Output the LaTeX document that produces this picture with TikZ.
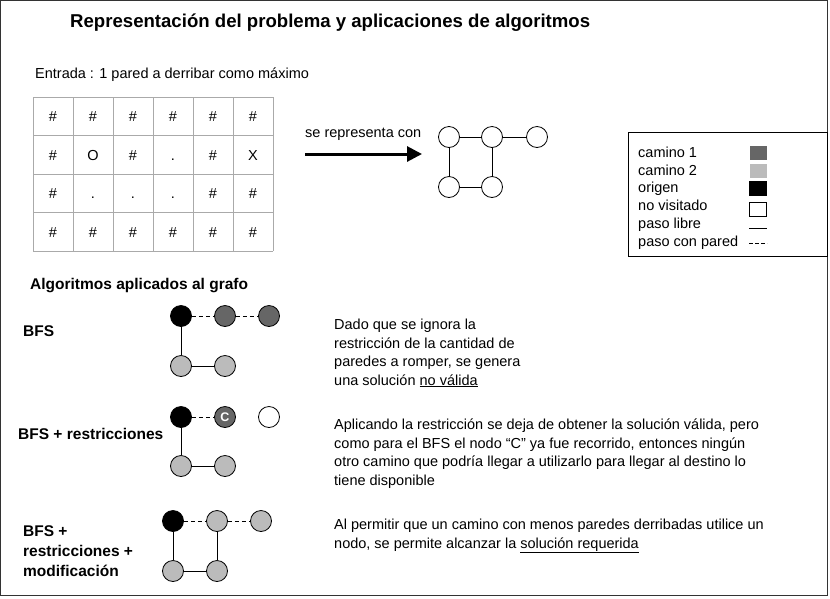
\documentclass[tikz,border=0pt]{standalone}
\usepackage{fontspec}
\setmainfont{Liberation Sans}
\usetikzlibrary{arrows.meta}
\definecolor{cone}{HTML}{666666}
\definecolor{ctwo}{HTML}{BBBBBB}
\definecolor{gridc}{HTML}{AAAAAA}
\definecolor{framec}{HTML}{333333}
\begin{document}
\begin{tikzpicture}[x=1pt,y=-1pt,
  txt/.style={anchor=base west, inner sep=0pt, font=\fontsize{14.5}{17}\selectfont},
  btxt/.style={anchor=base west, inner sep=0pt, font=\fontsize{15.5}{18}\selectfont\bfseries},
  cell/.style={anchor=base, inner sep=0pt, font=\fontsize{14.5}{17}\selectfont},
  vtx/.style={circle, draw=black, line width=0.8pt, minimum size=21pt, inner sep=0pt},
  orig/.style={vtx, fill=black},
  camone/.style={vtx, fill=cone},
  camtwo/.style={vtx, fill=ctwo},
  novis/.style={vtx, fill=white},
  edgefree/.style={draw=black, line width=0.8pt},
  edgewall/.style={draw=black, line width=0.8pt, dash pattern=on 4pt off 3pt},
  swatch/.style={draw=black, line width=0.6pt, minimum width=17pt, minimum height=14pt, inner sep=0pt}
]
\useasboundingbox (0,0) rectangle (830,598);
\draw[framec, line width=1pt] (0.5,0.5) rectangle (827.5,595.5);

% title
\node[anchor=base west, inner sep=0pt, font=\fontsize{18.6}{22}\selectfont\bfseries] (title) at (70,27) {Representación del problema y aplicaciones de algoritmos};
\node[txt] (entrada) at (35,78) {Entrada : 1 pared a derribar como máximo};

% grid
\foreach \i in {0,...,6} \draw[gridc, line width=0.8pt] (33+40*\i,97) -- (33+40*\i,251);
\foreach \j/\yy in {0/97,1/135.5,2/174,3/212.5,4/251} \draw[gridc, line width=0.8pt] (33,\yy) -- (273,\yy);
\foreach \c [count=\k from 0] in {\#,\#,\#,\#,\#,\#} \node[cell] (ga\k) at (53+40*\k,121) {\c};
\foreach \c [count=\k from 0] in {\#,O,\#,.,\#,X} \node[cell] (gb\k) at (53+40*\k,160) {\c};
\foreach \c [count=\k from 0] in {\#,.,.,.,\#,\#} \node[cell] (gc\k) at (53+40*\k,198) {\c};
\foreach \c [count=\k from 0] in {\#,\#,\#,\#,\#,\#} \node[cell] (gd\k) at (53+40*\k,237) {\c};

% arrow
\node[txt] (repr) at (305,137) {se representa con};
\coordinate (arrS) at (305,154);
\coordinate (arrE) at (422,154);
\draw[line width=3pt, -{Triangle[length=15pt, width=15pt]}] (arrS) -- (arrE);

% representing graph
\node[novis] (r1) at (449,137) {};
\node[novis] (r2) at (492,137) {};
\node[novis] (r3) at (537,137) {};
\node[novis] (r4) at (449,187) {};
\node[novis] (r5) at (492,187) {};
\draw[edgefree] (r1) -- (r2);
\draw[edgefree] (r2) -- (r3);
\draw[edgefree] (r1) -- (r4);
\draw[edgefree] (r2) -- (r5);
\draw[edgefree] (r4) -- (r5);

% legend
\node[draw=black, line width=0.8pt, minimum width=199pt, minimum height=124pt, anchor=north west, inner sep=0pt] (legend) at (628,132) {};
\node[txt] (l1) at (638,157) {camino 1};
\node[txt] (l2) at (638,175) {camino 2};
\node[txt] (l3) at (638,192) {origen};
\node[txt] (l4) at (638,210) {no visitado};
\node[txt] (l5) at (638,228) {paso libre};
\node[txt] (l6) at (638,246) {paso con pared};
\node[swatch, draw=none, fill=cone] (s1) at (758,153) {};
\node[swatch, draw=none, fill=ctwo] (s2) at (758,171) {};
\node[swatch, fill=black] (s3) at (758,188) {};
\node[swatch, fill=white] (s4) at (758,209) {};
\coordinate (s5a) at (749,228); \coordinate (s5b) at (767,228);
\coordinate (s6a) at (749,243); \coordinate (s6b) at (767,243);
\draw[line width=0.7pt] (s5a) -- (s5b);
\draw[line width=0.7pt, dash pattern=on 3.5pt off 2.5pt] (s6a) -- (s6b);

% algorithms
\node[btxt] (alg) at (30,289) {Algoritmos aplicados al grafo};

% BFS
\node[btxt] (bfs) at (23,336) {BFS};
\node[orig] (a1) at (181,316) {};
\node[camone] (a2) at (225,316) {};
\node[camone] (a3) at (269,316) {};
\node[camtwo] (a4) at (181,366) {};
\node[camtwo] (a5) at (225,366) {};
\draw[edgewall] (a1) -- (a2);
\draw[edgewall] (a2) -- (a3);
\draw[edgefree] (a1) -- (a4);
\draw[edgefree] (a4) -- (a5);
\node[txt] (t1a) at (334,329) {Dado que se ignora la};
\node[txt] (t1b) at (334,348) {restricción de la cantidad de};
\node[txt] (t1c) at (334,366) {paredes a romper, se genera};
\node[txt] (t1d) at (334,385) {una solución \underline{no válida}};

% BFS + restricciones
\node[btxt] (bfsr) at (18,439) {BFS + restricciones};
\node[orig] (b1) at (181,417) {};
\node[camone, font=\fontsize{12.5}{14}\selectfont\bfseries, text=white] (b2) at (225,417) {C};
\node[novis] (b3) at (269,417) {};
\node[camtwo] (b4) at (181,466) {};
\node[camtwo] (b5) at (225,466) {};
\draw[edgewall] (b1) -- (b2);
\draw[edgefree] (b1) -- (b4);
\draw[edgefree] (b4) -- (b5);
\node[txt] (t2a) at (334,429) {Aplicando la restricción se deja de obtener la solución válida, pero};
\node[txt] (t2b) at (334,448) {como para el BFS el nodo “C” ya fue recorrido, entonces ningún};
\node[txt] (t2c) at (334,466) {otro camino que podría llegar a utilizarlo para llegar al destino lo};
\node[txt] (t2d) at (334,485) {tiene disponible};

% BFS + restricciones + modificacion
\node[btxt] (bfsm1) at (23,536) {BFS +};
\node[btxt] (bfsm2) at (23,556) {restricciones +};
\node[btxt] (bfsm3) at (23,576) {modificación};
\node[orig] (c1) at (173,521) {};
\node[camtwo] (c2) at (217,521) {};
\node[camtwo] (c3) at (261,521) {};
\node[camtwo] (c4) at (173,571) {};
\node[camtwo] (c5) at (217,571) {};
\draw[edgewall] (c1) -- (c2);
\draw[edgewall] (c2) -- (c3);
\draw[edgefree] (c1) -- (c4);
\draw[edgefree] (c4) -- (c5);
\draw[edgefree] (c2) -- (c5);
\node[txt] (t3a) at (334,529) {Al permitir que un camino con menos paredes derribadas utilice un};
\node[txt] (t3b) at (334,548) {nodo, se permite alcanzar la \underline{solución requerida}};
\end{tikzpicture}
\end{document}
